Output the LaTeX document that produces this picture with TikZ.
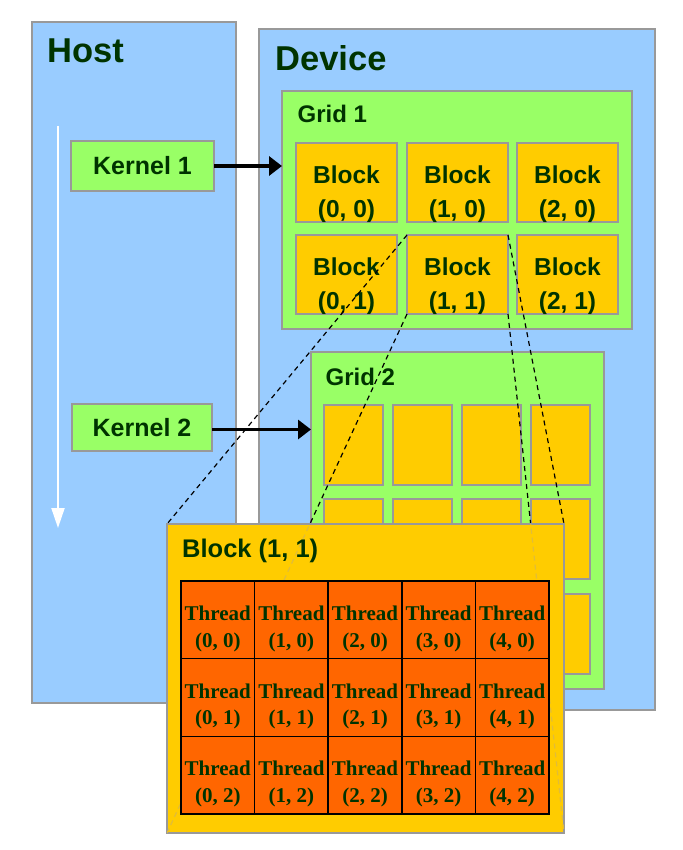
\documentclass[tikz,border=0pt]{standalone}
\usepackage{fontspec}
\setmainfont{Liberation Sans}
\newfontfamily\threadfont{Liberation Serif}
\usetikzlibrary{arrows.meta}

\definecolor{panelblue}{HTML}{99CCFF}
\definecolor{gridgreen}{HTML}{99FF66}
\definecolor{blockyellow}{HTML}{FFCC00}
\definecolor{threadorange}{HTML}{FF6600}
\definecolor{edgegray}{HTML}{999999}
\definecolor{labelgreen}{HTML}{003300}
\definecolor{fadedash}{HTML}{E0BC3A}

% rectangle given by its top-left corner, width and height
\newcommand\placebox[6]{\node[box, fill=#6, minimum width=#4pt, minimum height=#5pt] (#1) at (#2,#3) {};}

\begin{document}
\begin{tikzpicture}[x=1pt, y=-1pt,
  box/.style={draw=edgegray, line width=1.4pt, anchor=north west, inner sep=0pt, outer sep=0pt},
  title/.style={anchor=base west, inner sep=0pt, text=labelgreen, font=\bfseries\fontsize{34.5}{40}\selectfont},
  subtitle/.style={anchor=base west, inner sep=0pt, text=labelgreen, font=\bfseries\fontsize{24}{30}\selectfont},
  blocktext/.style={inner sep=0pt, align=center, text=labelgreen, font=\bfseries\fontsize{24.5}{34}\selectfont},
  kerneltext/.style={inner sep=0pt, text=labelgreen, font=\bfseries\fontsize{25}{30}\selectfont},
  threadtext/.style={inner sep=0pt, align=center, text=labelgreen, font=\threadfont\bfseries\fontsize{21}{26.5}\selectfont},
  cell/.style={draw=black, line width=1.5pt, fill=threadorange, anchor=north west, inner sep=0pt, outer sep=0pt,
    minimum width=73.6pt, minimum height=77.67pt},
  launch/.style={line width=3.2pt, -{Triangle[length=13pt, width=19pt]}},
  zoomline/.style={dashed, dash pattern=on 5pt off 4pt, line width=1.2pt}]

\useasboundingbox (0,0) rectangle (682,850);

% host and device panels
\placebox{host}{32}{22}{204}{681}{panelblue}
\placebox{device}{259}{29}{396}{681}{panelblue}
\node[title] (hostlbl) at (47,63) {Host};
\node[title] (devicelbl) at (275,71) {Device};

% grid 1 with its six blocks
\placebox{grid1}{282}{91}{350}{238}{gridgreen}
\node[subtitle] (grid1lbl) at (297.5,123) {Grid 1};
\foreach \i/\x in {0/296,1/407,2/517}{
  \foreach \j/\y in {0/143,1/235}{
    \placebox{b\i\j}{\x}{\y}{101}{79}{blockyellow}
    \node[blocktext] (b\i\j lbl) at ([yshift=-12pt]b\i\j.center) {Block\\(\i, \j)};
  }
}

% grid 2 with its twelve blocks
\placebox{grid2}{311}{352}{293}{337}{gridgreen}
\node[subtitle] (grid2lbl) at (325.5,385) {Grid 2};
\foreach \i/\x in {0/324,1/393,2/462,3/531}{
  \foreach \j/\y in {0/405,1/499,2/594}{
    \placebox{c\i\j}{\x}{\y}{59}{80}{blockyellow}
  }
}

% kernels launched from the host
\placebox{k1}{71}{141}{143}{50}{gridgreen}
\node[kerneltext] (k1lbl) at (k1.center) {Kernel 1};
\placebox{k2}{72}{404}{140}{47}{gridgreen}
\node[kerneltext] (k2lbl) at (k2.center) {Kernel 2};
\draw[launch] (k1.east) -- (k1.east -| grid1.west);
\draw[launch] ([yshift=-2pt]k2.east) -- ([yshift=-2pt]k2.east -| grid2.west);

% host time line
\coordinate (flowtop) at (58,126);
\coordinate (flowend) at (58,528);
\draw[white, line width=2pt, -{Triangle[length=20pt, width=13pt]}] (flowtop) -- (flowend);

% zoom lines from block (1, 1) to its enlargement
\coordinate (bigtl) at (167,524);
\coordinate (bigtr) at (564,524);
\coordinate (bigbl) at (167,833);
\coordinate (bigbr) at (564,833);
\draw[zoomline] (b11.north west) -- (bigtl);
\draw[zoomline] (b11.north east) -- (bigtr);
\draw[zoomline] (b11.south west) -- (bigbl);
\draw[zoomline] (b11.south east) -- (bigbr);

% enlarged block, with the zoom lines showing faintly through it
\placebox{big}{167}{524}{397}{309}{blockyellow}
\begin{scope}
  \clip (big.north west) rectangle (big.south east);
  \draw[zoomline, fadedash] (b11.south west) -- (big.south west);
  \draw[zoomline, fadedash] (b11.south east) -- (big.south east);
\end{scope}
\node[subtitle, font=\bfseries\fontsize{25.5}{30}\selectfont] (biglbl) at (182,557) {Block (1, 1)};

% threads of the enlarged block
\foreach \i in {0,...,4}{
  \foreach \j in {0,1,2}{
    \node[cell] (t\i\j) at ({181+73.6*\i},{581+77.67*\j}) {};
    \node[threadtext] (t\i\j lbl) at ([yshift=-9pt]t\i\j.center) {Thread\\(\i, \j)};
  }
}
\end{tikzpicture}
\end{document}
